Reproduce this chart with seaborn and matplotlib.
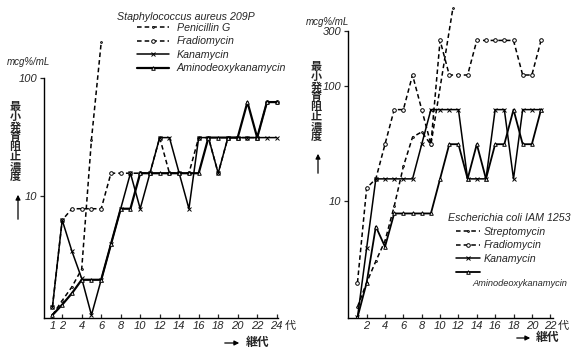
import numpy as np
import pandas as pd
import matplotlib
matplotlib.use("Agg")
import matplotlib.pyplot as plt
import seaborn as sns
from matplotlib.ticker import NullLocator

# Staphylococcus aureus 209P, MIC (mcg/mL) by generation
gen_sa = list(range(1, 25))
penicillin_gen = [1, 2, 3, 4, 5, 6]
penicillin_g = [0.98, 1.3, 1.7, 2.4, 30, 200]
fradio_sa = [1.15, 6.25, 7.8, 7.8, 7.8, 7.8, 15.6, 15.6, 15.6, 15.6, 15.6, 31.25,
             15.6, 15.6, 15.6, 31.25, 31.25, 15.6, 31.25, 31.25, 31.25, 31.25, 62.5, 62.5]
kana_sa = [1.15, 6.25, 3.4, 2.0, 0.98, 1.95, 3.9, 7.8, 15.6, 7.8, 15.6, 31.25,
           31.25, 15.6, 7.8, 31.25, 31.25, 15.6, 31.25, 31.25, 31.25, 31.25, 31.25, 31.25]
amino_sa = [0.98, 1.2, 1.5, 1.95, 1.95, 1.95, 3.9, 7.8, 7.8, 15.6, 15.6, 15.6,
            15.6, 15.6, 15.6, 15.6, 31.25, 31.25, 31.25, 31.25, 62.5, 31.25, 62.5, 62.5]

# Escherichia coli IAM 1253
gen_ec = list(range(1, 22))
strepto_gen = [1, 2, 3, 4, 5, 6, 7, 8, 9, 11.4]
strepto = [1.2, 1.95, 3.0, 4.5, 9.0, 20, 36, 40, 31, 480]
fradio_ec = [1.95, 13, 15.6, 31.25, 62.5, 62.5, 125, 62.5, 31.25, 250, 125, 125,
             125, 250, 250, 250, 250, 250, 125, 125, 250]
kana_ec = [0.97, 3.9, 15.6, 15.6, 15.6, 15.6, 15.6, 31.25, 62.5, 62.5, 62.5, 62.5,
           15.6, 15.6, 15.6, 62.5, 62.5, 15.6, 62.5, 62.5, 62.5]
amino_ec = [0.97, 1.95, 6.0, 4.0, 7.8, 7.8, 7.8, 7.8, 7.8, 15.6, 31.25, 31.25,
            15.6, 31.25, 15.6, 31.25, 31.25, 62.5, 31.25, 31.25, 62.5]

ticks_sa = [1, 2, 4, 6, 8, 10, 12, 14, 16, 18, 20, 22, 24]
ticklabels_sa = ["1", "2", "4", "6", "8", "10", "12", "14", "16", "18", "20", "22", "24"]
ticks_ec = [2, 4, 6, 8, 10, 12, 14, 16, 18, 20, 22]
ticklabels_ec = ["2", "4", "6", "8", "10", "12", "14", "16", "18", "20", "22"]

sns.set_style("ticks")
plt.rcParams['font.family'] = ['Liberation Sans', 'Noto Sans CJK JP', 'DejaVu Sans']

W, H = 579, 353
fig = plt.figure(figsize=(5.79, 3.53), dpi=100)

DASH = (0, (3, 2))
FS = 7.7


def draw(ax, x, y, label, ls, marker, lw=1.1, ms=2.6):
    sns.lineplot(x=x, y=y, ax=ax, color="black", linestyle=ls, marker=marker,
                 markersize=ms, markerfacecolor="white", markeredgecolor="black",
                 markeredgewidth=0.7, linewidth=lw, label=label, sort=False)


def style_axis(ax, ymin, ymax, ybound_top, xlim, xbound, ticks, labels, yticks):
    ax.set_yscale("log")
    ax.set_ylim(ymin, ymax)
    ax.set_xlim(*xlim)
    ax.yaxis.set_minor_locator(NullLocator())
    ax.set_yticks(yticks)
    ax.set_yticklabels([str(t) for t in yticks], fontstyle="italic", fontsize=8)
    ax.set_xticks(ticks)
    ax.set_xticklabels(labels, fontstyle="italic", fontsize=8)
    ax.tick_params(axis="x", direction="in", length=3, pad=2, width=0.9)
    ax.tick_params(axis="y", direction="out", length=3, pad=2, width=0.9)
    ax.set_xlabel("")
    ax.set_ylabel("")
    sns.despine(ax=ax)
    ax.spines["left"].set_bounds(ymin, ybound_top)
    ax.spines["bottom"].set_bounds(*xbound)
    for s in ("left", "bottom"):
        ax.spines[s].set_linewidth(1.0)
        ax.spines[s].set_color("black")
    ax.patch.set_alpha(0)
    # generation suffix after the last tick label
    ax.annotate("代", xy=(ticks[-1], 0), xycoords=("data", "axes fraction"),
                xytext=(5.5, -2), textcoords="offset points", ha="left", va="top",
                fontsize=8)


# ---- left panel ----
ax1 = fig.add_axes([44 / W, 35 / H, 236 / W, 318 / H])
draw(ax1, penicillin_gen, penicillin_g, "Penicillin G", DASH, ".", ms=2.5)
draw(ax1, gen_sa, fradio_sa, "Fradiomycin", DASH, "o")
draw(ax1, gen_sa, kana_sa, "Kanamycin", "-", "x", ms=2.5)
draw(ax1, gen_sa, amino_sa, "Aminodeoxykanamycin", "-", "^", lw=1.6)
style_axis(ax1, 0.925, 458, 100, (0.133, 24.34), (0.133, 24.1),
           ticks_sa, ticklabels_sa, [10, 100])
ax1.legend(loc="upper left", bbox_to_anchor=((137 - 44) / 236, 1 - 23 / 318),
           frameon=False, handlelength=3.0, handletextpad=0.7, labelspacing=0.32,
           borderpad=0.0, borderaxespad=0.0, prop={"style": "italic", "size": FS})
fig.text(117 / W, 1 - 17 / H, "Staphylococcus aureus 209P", fontsize=FS,
         fontstyle="italic", ha="left", va="center")

# ---- right panel ----
ax2 = fig.add_axes([348.3 / W, 35 / H, 211.1 / W, 318 / H])
draw(ax2, strepto_gen, strepto, "Streptomycin", DASH, ".", ms=2.5)
draw(ax2, gen_ec, fradio_ec, "Fradiomycin", DASH, "o")
draw(ax2, gen_ec, kana_ec, "Kanamycin", "-", "x", ms=2.5)
draw(ax2, gen_ec, amino_ec, " ", "-", "^", lw=1.3)
style_axis(ax2, 0.96, 562, 300, (0.0, 23.0), (0.0, 22.3),
           ticks_ec, ticklabels_ec, [10, 100, 300])
ax2.legend(loc="upper left", bbox_to_anchor=((456 - 348.3) / 211.1, 1 - 227 / 318),
           frameon=False, handlelength=2.2, handletextpad=0.35, labelspacing=0.32,
           borderpad=0.0, borderaxespad=0.0, prop={"style": "italic", "size": FS})
fig.text(448 / W, 1 - 218 / H, "Escherichia coli IAM 1253", fontsize=FS,
         fontstyle="italic", ha="left", va="center")
fig.text(472 / W, 1 - 283 / H, "Aminodeoxykanamycin", fontsize=6.7,
         fontstyle="italic", ha="left", va="center")

# ---- annotation texts ----
vert = "\n".join("最小発育阻止濃度")
fig.text(15 / W, 1 - 142 / H, vert, fontsize=8, ha="center", va="center",
         linespacing=0.98, fontweight="bold")
fig.text(316 / W, 1 - 102 / H, vert, fontsize=8, ha="center", va="center",
         linespacing=0.98, fontweight="bold")
fig.text(28 / W, 1 - 62 / H, "mcg%/mL", fontsize=7, fontstyle="italic",
         ha="center", va="center")
fig.text(327 / W, 1 - 22 / H, "mcg%/mL", fontsize=7, fontstyle="italic",
         ha="center", va="center")

arrow = dict(arrowstyle="-|>", color="black", lw=0.9, mutation_scale=7)
ax1.annotate("", xy=(18, H - 192), xytext=(18, H - 222),
             xycoords="figure pixels", textcoords="figure pixels", arrowprops=arrow)
ax2.annotate("", xy=(318, H - 151), xytext=(318, H - 176),
             xycoords="figure pixels", textcoords="figure pixels", arrowprops=arrow)
ax1.annotate("", xy=(242, H - 343), xytext=(222, H - 343),
             xycoords="figure pixels", textcoords="figure pixels", arrowprops=arrow)
ax2.annotate("", xy=(533, H - 338), xytext=(514, H - 338),
             xycoords="figure pixels", textcoords="figure pixels", arrowprops=arrow)
fig.text(246 / W, 1 - 343 / H, "継代", fontsize=8.5, ha="left", va="center",
         fontweight="bold")
fig.text(536 / W, 1 - 338 / H, "継代", fontsize=8.5, ha="left", va="center",
         fontweight="bold")

fig.savefig("out.png", dpi=100)
